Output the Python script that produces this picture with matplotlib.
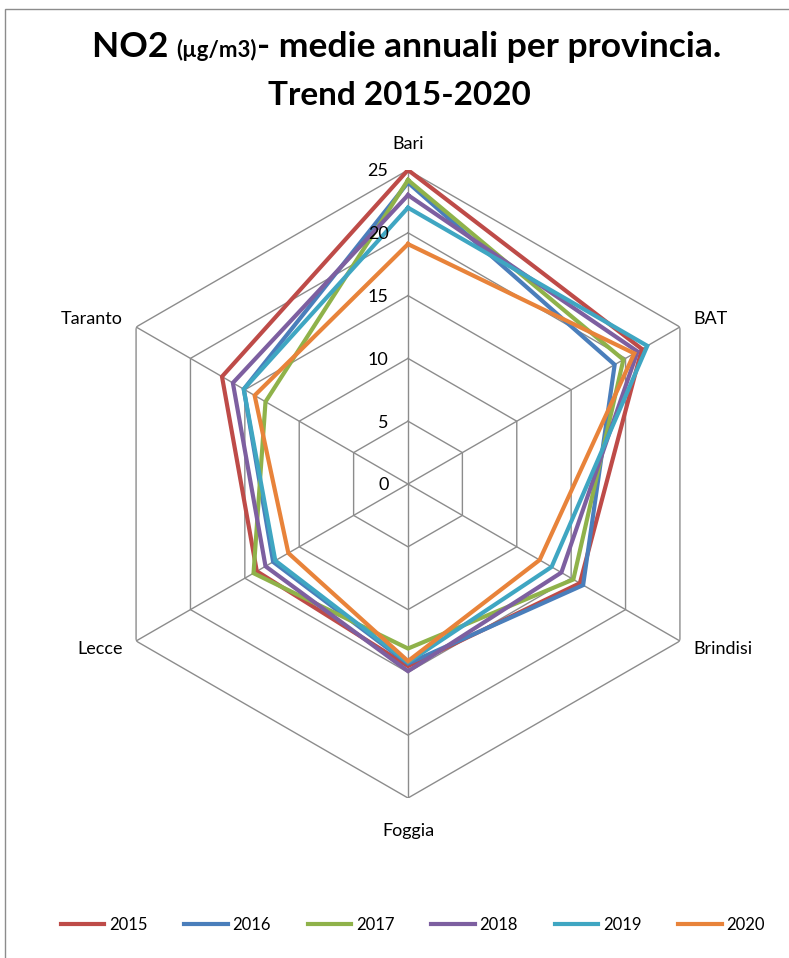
import numpy as np
import matplotlib
matplotlib.use("Agg")
import matplotlib.pyplot as plt
from matplotlib.lines import Line2D
from matplotlib.patches import Rectangle

# Provinces (clockwise from top) and yearly NO2 annual means (µg/m3)
provinces = ["Bari", "BAT", "Brindisi", "Foggia", "Lecce", "Taranto"]
years = ["2015", "2016", "2017", "2018", "2019", "2020"]
no2_2015 = [25.0, 21.5, 15.8, 14.5, 13.9, 17.1]
no2_2016 = [24.0, 19.0, 16.1, 14.3, 12.4, 15.1]
no2_2017 = [24.2, 19.8, 15.2, 13.1, 14.2, 13.1]
no2_2018 = [23.0, 21.1, 14.1, 14.9, 13.1, 16.1]
no2_2019 = [22.0, 22.0, 13.2, 14.2, 12.2, 15.1]
no2_2020 = [19.1, 20.8, 12.1, 14.1, 11.0, 14.1]
series = [no2_2015, no2_2016, no2_2017, no2_2018, no2_2019, no2_2020]
ticks = [0, 5, 10, 15, 20, 25]

colors = ["#BE4B48", "#4A7EBB", "#8FB24A", "#7D5FA0", "#3FA6C2", "#E8833A"]
grid_color = "#8C8C8C"
FONT = "Lato"

W, H = 789, 958
fig = plt.figure(figsize=(W / 100, H / 100), dpi=100)

# frame of the chart area
fig.add_artist(Rectangle((5 / W, -0.05), 1.2, (H - 9) / H + 0.05,
                         transform=fig.transFigure, fill=False,
                         edgecolor="#8C8C8C", linewidth=1.0))

cx, cy, R = 408, 484, 314
ax = fig.add_axes([(cx - R) / W, (H - cy - R) / H, 2 * R / W, 2 * R / H],
                  projection="polar")
ax.set_theta_offset(np.pi / 2)
ax.set_theta_direction(-1)
ax.set_ylim(0, ticks[-1])
ax.set_axis_off()

n = len(provinces)
theta = np.arange(n) * 2 * np.pi / n
theta_closed = np.append(theta, theta[0])

# hexagonal grid rings and spokes
for t in ticks[1:]:
    ax.plot(theta_closed, [t] * (n + 1), color=grid_color, lw=1.0, zorder=1)
for th in theta:
    ax.plot([th, th], [0, ticks[-1]], color=grid_color, lw=1.0, zorder=1)

# data polygons
for vals, col, yr in zip(series, colors, years):
    ax.plot(theta_closed, vals + vals[:1], color=col, lw=3.0, zorder=3,
            solid_joinstyle="miter", label=yr)

# radial tick labels along the Bari spoke
for t in ticks:
    ax.annotate(f"{t}", xy=(0, t), xytext=(-14, -1), textcoords="offset points",
                ha="right", va="center", fontsize=13, family=FONT,
                color="#000000", zorder=4)

# category labels
aligns = ["center", "left", "left", "center", "right", "right"]
radii = [27.1, 26.2, 26.2, 27.6, 26.2, 26.2]
for th, name, al, r in zip(theta, provinces, aligns, radii):
    ax.text(th, r, name, ha=al, va="center", fontsize=13, family=FONT,
            color="#000000")

# title composed of pieces of different sizes
renderer = fig.canvas.get_renderer()
y1 = 1 - 57 / H
parts = [("NO2 ", 25.5), ("(µg/m3)", 16), ("- medie annuali per provincia.", 25.5)]
objs = []
for txt, fs in parts:
    objs.append(fig.text(0, y1, txt, fontsize=fs, fontweight="bold",
                         family=FONT, ha="left", va="baseline"))
widths = [o.get_window_extent(renderer).width / W for o in objs]
x = 0.5 + 12 / W - sum(widths) / 2
for o, w in zip(objs, widths):
    o.set_x(x)
    x += w
fig.text(0.5 + 5 / W, 1 - 105 / H, "Trend 2015-2020", fontsize=24,
         fontweight="bold", family=FONT, ha="center", va="baseline")

# legend
handles = [Line2D([], [], color=c, lw=3.0) for c in colors]
fig.legend(handles, years, loc="center", bbox_to_anchor=(413 / W, 1 - 925 / H),
           ncol=6, frameon=False, handlelength=2.6, handletextpad=0.3,
           columnspacing=2.2, prop={"family": FONT, "size": 12})

fig.savefig("out.png", dpi=100)
